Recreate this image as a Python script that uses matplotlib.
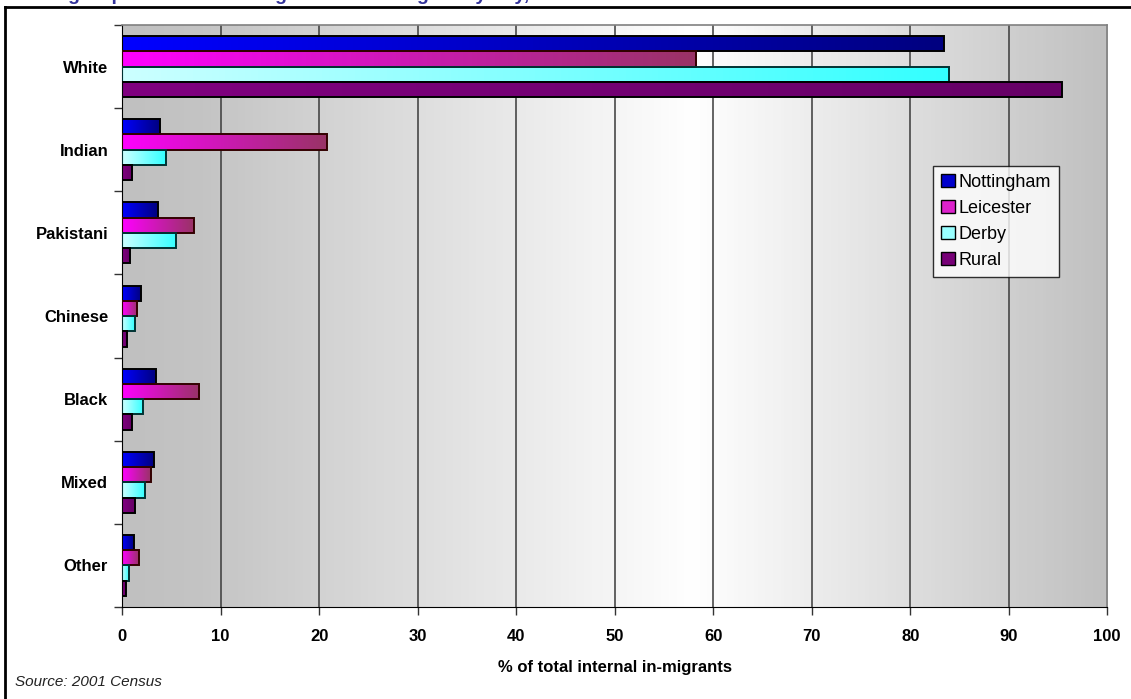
import numpy as np
import matplotlib
matplotlib.use("Agg")
import matplotlib.pyplot as plt
from matplotlib.colors import LinearSegmentedColormap
from matplotlib.patches import Patch
from matplotlib.lines import Line2D

plt.rcParams['font.family'] = ['Liberation Sans', 'DejaVu Sans']

categories = ["White", "Indian", "Pakistani", "Chinese", "Black", "Mixed", "Other"]
series = ["Nottingham", "Leicester", "Derby", "Rural"]

nottingham = [83.4, 3.85, 3.6, 1.9, 3.45, 3.2, 1.2]
leicester = [58.3, 20.8, 7.3, 1.55, 7.85, 2.9, 1.7]
derby = [83.9, 4.45, 5.5, 1.3, 2.15, 2.3, 0.7]
rural = [95.4, 1.05, 0.8, 0.55, 1.0, 1.3, 0.4]

values = [nottingham, leicester, derby, rural]

# gradient start/end colour of every series (left -> right along the bar)
grad = {
    "Nottingham": ("#0000ff", "#000080"),
    "Leicester": ("#ff00ff", "#993366"),
    "Derby": ("#ccffff", "#33ffff"),
    "Rural": ("#800080", "#660066"),
}
edge = {"Nottingham": "#000000", "Leicester": "#330000", "Derby": "#003333", "Rural": "#000000"}
legend_fill = {"Nottingham": "#0000cc", "Leicester": "#dd22cc", "Derby": "#99ffff", "Rural": "#770077"}

fig = plt.figure(figsize=(11.31, 6.99), dpi=100)
ax = fig.add_axes([0.1079, 0.1316, 0.979 - 0.1079, 0.9642 - 0.1316])

# background: grey -> white -> grey horizontally
bg = LinearSegmentedColormap.from_list("bg", [(0, "#c0c0c0"), (0.08, "#c4c4c4"),
                                              (0.58, "#ffffff"), (1.0, "#c0c0c0")])
ax.imshow(np.linspace(0, 1, 256).reshape(1, -1), cmap=bg, aspect="auto",
          extent=[0, 100, 7, 0], zorder=0)

for x in range(10, 100, 10):
    ax.axvline(x, color="#3a3a3a", lw=1.1, zorder=1)

ypos = np.arange(len(categories))
h = 0.1835
for i, (name, vals) in enumerate(zip(series, values)):
    y = ypos + 0.5 + (i - 1.5) * h
    bars = ax.barh(y, vals, height=h, facecolor="none", edgecolor=edge[name],
                   lw=1.4, zorder=3)
    cmap = LinearSegmentedColormap.from_list(name, list(grad[name]))
    for b in bars:
        x0, y0 = b.get_x(), b.get_y()
        w, hh = b.get_width(), b.get_height()
        im = ax.imshow(np.linspace(0, 1, 128).reshape(1, -1), cmap=cmap, aspect="auto",
                       extent=[x0, x0 + w, y0 + hh, y0], zorder=2)
        im.set_clip_path(b)

ax.set_xlim(0, 100)
ax.set_ylim(7, 0)
ax.set_xticks(range(0, 101, 10))
ax.set_xticklabels([str(v) for v in range(0, 101, 10)], fontsize=12, fontweight="bold")
ax.set_yticks(np.arange(0, 8))
ax.set_yticklabels([])
ax.set_yticks(ypos + 0.5, minor=True)
ax.set_yticklabels(categories, minor=True, fontsize=12, fontweight="bold")
ax.tick_params(axis="y", which="minor", length=0, pad=10)
ax.tick_params(axis="y", which="major", length=6, width=1, color="#333333")
ax.tick_params(axis="x", length=6, width=1, pad=10, color="#333333")

for s in ["top", "right"]:
    ax.spines[s].set_color("#808080")
    ax.spines[s].set_linewidth(1.2)
ax.spines["left"].set_color("#000000")
ax.spines["bottom"].set_color("#000000")

ax.set_xlabel("% of total internal in-migrants", fontsize=12, fontweight="bold", labelpad=11)

handles = [Patch(facecolor=legend_fill[n], edgecolor="black") for n in series]
leg = ax.legend(handles, series, loc="upper left", bbox_to_anchor=(0.823, 0.758),
                fontsize=13, frameon=True, fancybox=False, edgecolor="black",
                handlelength=0.75, handleheight=0.75, handletextpad=0.2,
                borderpad=0.45, labelspacing=0.5, borderaxespad=0)
leg.get_frame().set_linewidth(1.0)

fig.text(0.013, 0.019, "Source: 2001 Census", fontsize=11, style="italic", color="#222222")

# title sits above the top edge, only its lowest strokes show
fig.text(0.003, 1.0005, "Ethnic group of internal in-migrants to the region by city, 2001",
         fontsize=14, fontweight="bold", color="#33339a", va="baseline")

# outer frame lines (left and top only visible)
fig.add_artist(Line2D([0.0045, 0.0045], [0, 0.9905], transform=fig.transFigure, color="black", lw=2))
fig.add_artist(Line2D([0.0045, 1.0], [0.9905, 0.9905], transform=fig.transFigure, color="black", lw=2))

fig.savefig("out.png", dpi=100)
